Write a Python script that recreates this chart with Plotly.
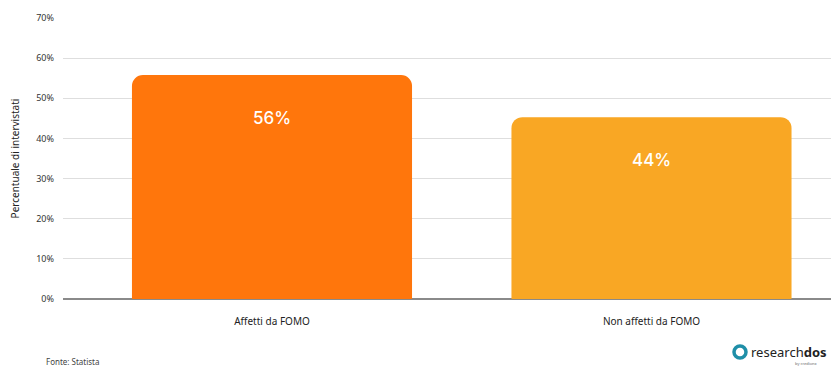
import plotly.graph_objects as go

categories = ["Affetti da FOMO", "Non affetti da FOMO"]
values = [55.8, 45.3]
value_labels = ["56%", "44%"]
colors = ["#FF760C", "#F9A724"]
y_ticks = [0, 10, 20, 30, 40, 50, 60, 70]

fig = go.Figure()
fig.add_trace(go.Bar(
    x=list(range(len(categories))), y=values,
    marker=dict(color=colors, line=dict(width=0)),
    width=0.738, hoverinfo="skip", showlegend=False,
))

for i, (v, lab) in enumerate(zip(values, value_labels)):
    fig.add_annotation(x=i, y=v, text=lab, showarrow=False, yshift=-43,
                       font=dict(family="Inter", size=17, color="white", weight=500),
                       xref="x", yref="y")

fig.update_layout(
    width=831, height=367,
    margin=dict(l=63, r=0, t=18, b=68),
    paper_bgcolor="white", plot_bgcolor="white",
    barcornerradius=11,
    font=dict(family="Noto Sans", color="#333"),
    xaxis=dict(
        range=[-0.5507, 1.473],
        tickmode="array", tickvals=list(range(len(categories))), ticktext=categories,
        showgrid=False, zeroline=False, showline=False,
        tickfont=dict(size=10, color="#222"), ticks="", ticklen=0,
        ticklabelstandoff=15,
    ),
    yaxis=dict(
        range=[0, 70], tickmode="array", tickvals=y_ticks,
        ticktext=[f"{t}%" for t in y_ticks],
        showgrid=True, gridcolor="#dedede", gridwidth=1,
        zeroline=True, zerolinecolor="#8a8a8a", zerolinewidth=1.5,
        showline=False, ticks="", ticklabelstandoff=8,
        tickfont=dict(size=9, color="#333"),
        title=dict(text="Percentuale di intervistati", font=dict(size=10, color="#222"), standoff=14),
    ),
)

fig.add_annotation(xref="paper", yref="paper", x=(44 - 63) / 768, y=(299 - 361) / 281,
                   xanchor="left", yanchor="middle",
                   text="Fonte: Statista", showarrow=False,
                   font=dict(size=8, color="#444"))

# logo
fig.add_shape(type="circle", xref="paper", yref="paper",
              x0=(734 - 63) / 768, x1=(746 - 63) / 768,
              y0=(299 - 358) / 281, y1=(299 - 346) / 281,
              line=dict(color="#1f8fa8", width=3.5), fillcolor="white")
fig.add_annotation(xref="paper", yref="paper", x=(749 - 63) / 768, y=(299 - 352) / 281,
                   xanchor="left", yanchor="middle", showarrow=False,
                   text="research<b>dos</b>", font=dict(size=13, color="#222"))
fig.add_annotation(xref="paper", yref="paper", x=(820 - 63) / 768, y=(299 - 363) / 281,
                   xanchor="right", yanchor="middle", showarrow=False,
                   text="by credionx", font=dict(size=4, color="#666"))

fig.write_html("out.html")
